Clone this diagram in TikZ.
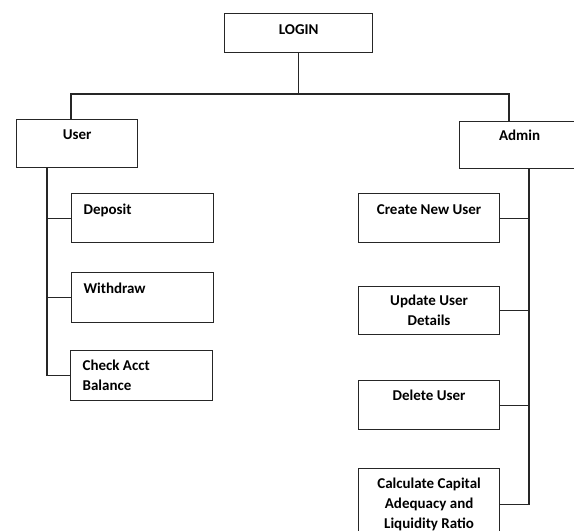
\documentclass[tikz,border=0pt]{standalone}
\usepackage{fontspec}
\setmainfont{Carlito}
\usetikzlibrary{positioning,calc}

\begin{document}
\begin{tikzpicture}[
    x=1pt, y=-1pt,
    box/.style={draw=black!85, line width=1.2pt, rectangle, inner sep=0pt, anchor=north west, font=\bfseries\fontsize{15}{20}\selectfont},
    lbox/.style={text width=118pt, inner xsep=12pt, align=flush left},
    rbox/.style={minimum width=141pt, align=center},
    link/.style={draw=black!85, line width=1.2pt},
]

\useasboundingbox (0,0) rectangle (574,531);
\clip (0,0) rectangle (574,531);

% Top
\node[box, minimum width=148pt, text height=21pt, text depth=18pt] (login) at (224,13) {LOGIN};
\node[box, minimum width=121pt, text height=20pt, text depth=28pt] (user) at (16,119) {User};
\node[box, minimum width=120pt, text height=19pt, text depth=28pt] (admin) at (459,121) {Admin};

% User side
\node[box, lbox, text height=21pt, text depth=28pt] (deposit) at (71,193) {Deposit};
\node[box, lbox, text height=21pt, text depth=29pt] (withdraw) at (71,272) {Withdraw};
\node[box, lbox, minimum height=50pt] (check) at (70,350) {Check Acct\\Balance};

% Admin side
\node[box, rbox, text height=21pt, text depth=28pt] (create) at (358,193) {Create New User};
\node[box, rbox, minimum height=48pt] (update) at (358,286) {Update User\\Details};
\node[box, rbox, text height=20pt, text depth=29pt] (delete) at (358,380) {Delete User};
\node[box, rbox, minimum height=72pt] (calc) at (358,468) {Calculate Capital\\Adequacy and\\Liquidity Ratio};

% Connectors
\coordinate (split) at (299,94);
\coordinate (ujoin) at (71,94);
\coordinate (ajoin) at (509,94);
\coordinate (uspine) at (47,0);
\coordinate (aspine) at (529,0);

\draw[link] (login.south) -- (login.south |- split);
\draw[link] (user.north -| ujoin) |- (split) -| (admin.north -| ajoin);
\foreach \n in {deposit,withdraw,check}
    \draw[link] (user.south -| uspine) |- (\n.west);
\foreach \n in {create,update,delete,calc}
    \draw[link] (admin.south -| aspine) |- (\n.east);

\end{tikzpicture}
\end{document}
